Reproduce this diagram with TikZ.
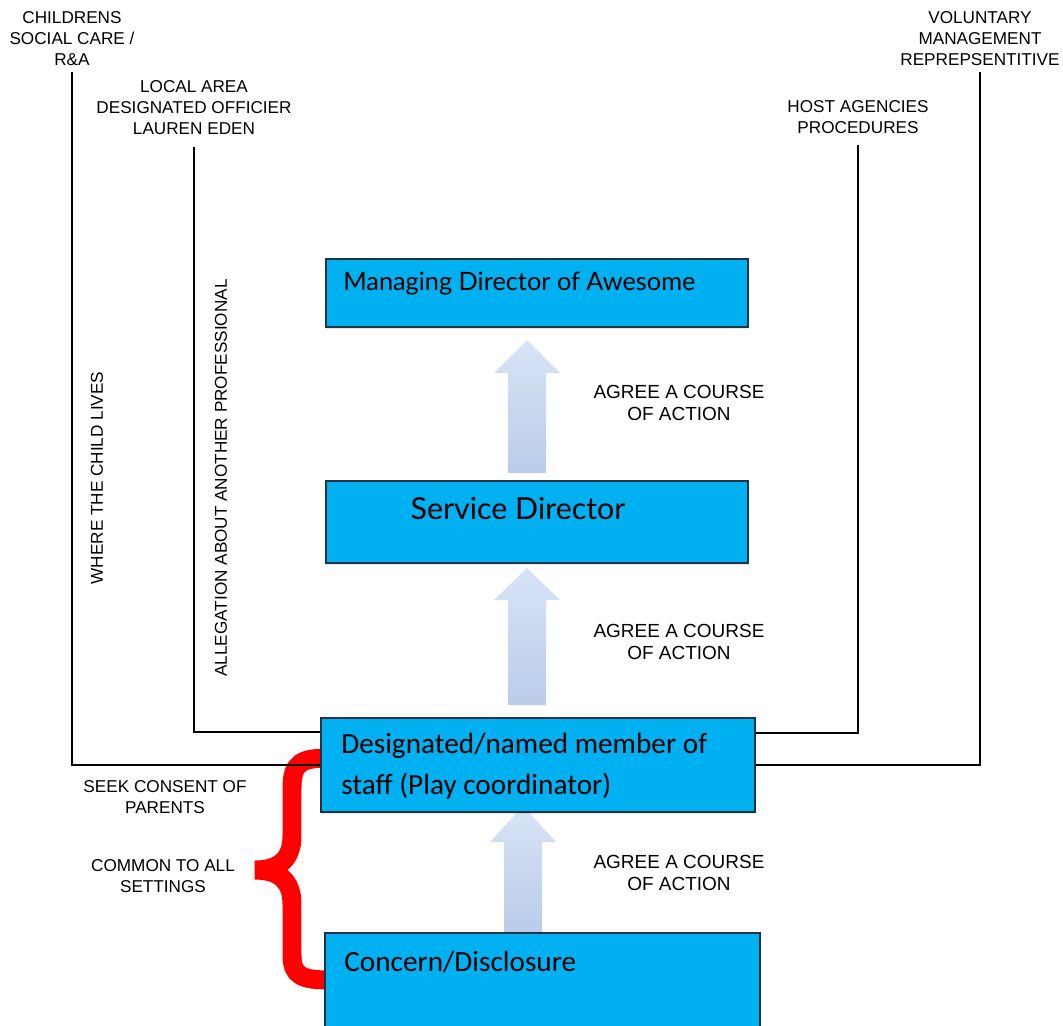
\documentclass[tikz,border=0pt]{standalone}
\usepackage{fontspec}
\setmainfont{Liberation Sans}
\newfontfamily\roundfont{Lato}
\newfontfamily\calfont{Carlito}
\usetikzlibrary{positioning,calc,shadows}

\definecolor{boxblue}{HTML}{00B0F0}
\definecolor{boxline}{HTML}{1B3445}
\definecolor{arrowtop}{HTML}{D8E4F6}
\definecolor{arrowbot}{HTML}{BACCE9}

\tikzset{
  box/.style={draw=boxline, line width=1.4pt, fill=boxblue, rectangle, inner sep=0pt,
    drop shadow={opacity=0.2, shadow xshift=0pt, shadow yshift=-1.5pt}},
  caps/.style={font=\fontsize{12.2}{14.9}\selectfont, align=center, inner sep=1pt},
  agree/.style={caps, font=\fontsize{13.5}{15.6}\selectfont},
  link/.style={line width=1.3pt, black, shorten <=3pt},
  bracket/.style={red, line width=13.5pt, line join=miter},
  upflow/.style={top color=arrowtop, bottom color=arrowbot}
}

\begin{document}
\begin{tikzpicture}[x=0.025cm, y=-0.025cm]
\useasboundingbox (0,0) rectangle (1063,1025);

% block arrows between the boxes
\foreach \tip/\base/\bot/\mid in {340/373/473/527, 568/600/705/527, 806/842/933/523}
  \shade[upflow] (\mid,\tip) -- ++(33,\base-\tip) -- ++(-14,0) -- (\mid+19,\bot)
    -- (\mid-19,\bot) -- (\mid-19,\base) -- (\mid-33,\base) -- cycle;

% red brace
\draw[bracket] (330,758) .. controls (302,758) and (292,762) .. (292,788) -- (292,836)
  .. controls (292,860) and (278,870) .. (255,870) .. controls (278,870) and (292,880) .. (292,904)
  -- (292,955) .. controls (292,976) and (302,980) .. (330,980);

% boxes
\node[box, minimum width=10.55cm, minimum height=1.7cm] (md) at (537,293) {};
\node[box, minimum width=10.55cm, minimum height=2.05cm] (sd) at (537,522) {};
\node[box, minimum width=10.85cm, minimum height=2.35cm] (dm) at (538,765) {};
\node[box, minimum width=10.875cm, minimum height=2.425cm] (cd) at (542.5,981.5) {};

\node[font=\roundfont\fontsize{18}{20}\selectfont, anchor=base west, inner sep=0pt] (mdtext) at (343,290) {Managing Director of Awesome};
\node[font=\roundfont\fontsize{21.6}{24}\selectfont, anchor=base, inner sep=0pt] (sdtext) at (518,519) {Service Director};
\node[font=\calfont\fontsize{20.8}{29}\selectfont, anchor=north west, align=left, inner sep=0pt] (dmtext) at (341,733) {Designated/named member of\\staff (Play coordinator)};
\node[font=\calfont\fontsize{20.8}{22}\selectfont, anchor=base west, inner sep=0pt] (cdtext) at (344,971) {Concern/Disclosure};

% outside agencies
\node[caps] (csc) at (72,39) {CHILDRENS\\SOCIAL CARE /\\R\&A};
\node[caps] (lado) at (194,108) {LOCAL AREA\\DESIGNATED OFFICIER\\LAUREN EDEN};
\node[caps] (host) at (858,117) {HOST AGENCIES\\PROCEDURES};
\node[caps] (vol) at (980,39) {VOLUNTARY\\MANAGEMENT\\REPREPSENTITIVE};

\draw[link] (csc.south) |- (dm.west);
\draw[link, shorten <=7pt] (lado.south) |- (dm.west |- 0,732);
\draw[link, shorten <=7pt] (host.south) |- (dm.east |- 0,733);
\draw[link] (vol.south) |- (dm.east);

\node[caps, rotate=90] (where) at (97,478) {WHERE THE CHILD LIVES};
\node[caps, rotate=90] (alleg) at (221,478) {ALLEGATION ABOUT ANOTHER PROFESSIONAL};

\node[caps] (seek) at (165,797) {SEEK CONSENT OF\\PARENTS};
\node[caps] (common) at (163,876) {COMMON TO ALL\\SETTINGS};

\foreach \y in {403,642,873}
  \node[agree] (agree\y) at (679,\y) {AGREE A COURSE\\OF ACTION};
\end{tikzpicture}
\end{document}
